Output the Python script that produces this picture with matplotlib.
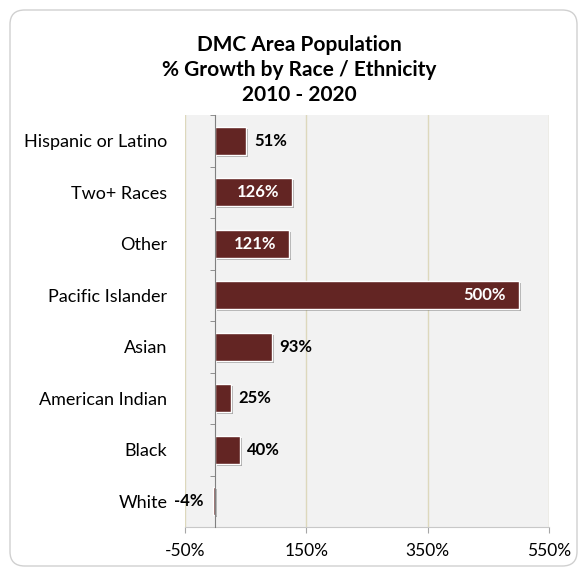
import matplotlib
matplotlib.use("Agg")
import matplotlib.pyplot as plt
import matplotlib.patheffects as pe
from matplotlib.patches import FancyBboxPatch

plt.rcParams["font.family"] = ["Lato", "DejaVu Sans"]

categories = ["White", "Black", "American Indian", "Asian",
              "Pacific Islander", "Other", "Two+ Races", "Hispanic or Latino"]
growth = [-4, 40, 25, 93, 500, 121, 126, 51]
inside = [False, False, False, False, True, True, True, False]
xticks = [-50, 150, 350, 550]

bar_color = "#632523"
grid_color = "#ddd8bc"

fig = plt.figure(figsize=(5.87, 5.76), dpi=100)

# rounded border round the whole chart
border = FancyBboxPatch((10 / 587, 10 / 576), 567 / 587, 556 / 576,
                        boxstyle="round,pad=0,rounding_size=0.025",
                        transform=fig.transFigure, facecolor="white",
                        edgecolor="#d0d0d0", linewidth=1.0, zorder=-1)
fig.patches.append(border)

ax = fig.add_axes([185 / 587, 1 - 527 / 576, 364 / 587, 412 / 576])
ax.set_facecolor("#f2f2f2")

y = list(range(len(categories)))
bars = ax.barh(y, growth, height=0.55, color=bar_color, edgecolor="white",
               linewidth=1.0, zorder=3)
for b in bars:
    b.set_path_effects([pe.SimplePatchShadow(offset=(1.5, -1.5), shadow_rgbFace="#000000", alpha=0.3),
                        pe.Normal()])

for yi, v, ins in zip(y, growth, inside):
    label = f"{v}%"
    if ins:
        ax.annotate(label, (v, yi), xytext=(-9, 0), textcoords="offset points",
                    ha="right", va="center", color="white", fontsize=12,
                    fontweight="bold", zorder=4)
    elif v < 0:
        ax.annotate(label, (v, yi), xytext=(-7, 0), textcoords="offset points",
                    ha="right", va="center", color="black", fontsize=12,
                    fontweight="bold", zorder=4)
    else:
        ax.annotate(label, (v, yi), xytext=(5.5, 0), textcoords="offset points",
                    ha="left", va="center", color="black", fontsize=12,
                    fontweight="bold", zorder=4)

ax.set_xlim(-50, 550)
ax.set_ylim(-0.5, len(categories) - 0.5)
ax.set_xticks(xticks)
ax.set_xticklabels([f"{t}%" for t in xticks])
ax.tick_params(axis="x", length=4.3, pad=7, color="#a6a6a6", labelsize=12.5)
ax.grid(axis="x", color=grid_color, linewidth=1.0, zorder=0)

ax.set_yticks(y)
ax.set_yticklabels(categories)
ax.set_yticks([i - 0.5 for i in range(len(categories) + 1)], minor=True)
ax.tick_params(axis="y", which="major", length=0, pad=34.5, labelsize=13)
ax.tick_params(axis="y", which="minor", length=3.6, color="#808080")

ax.spines["left"].set_position(("data", 0))
ax.spines["left"].set_color("#808080")
ax.spines["left"].set_zorder(5)
ax.spines["top"].set_visible(False)
ax.spines["right"].set_visible(False)
ax.spines["bottom"].set_color("#c8c8c8")

fig.text(0.51, 1 - 45 / 576, "DMC Area Population", ha="center", va="center",
         fontsize=15, fontweight="bold")
fig.text(0.51, 1 - 70 / 576, "% Growth by Race / Ethnicity", ha="center", va="center",
         fontsize=15, fontweight="bold")
fig.text(0.51, 1 - 95 / 576, "2010 - 2020", ha="center", va="center",
         fontsize=15, fontweight="bold")

fig.savefig("out.png", dpi=100)
